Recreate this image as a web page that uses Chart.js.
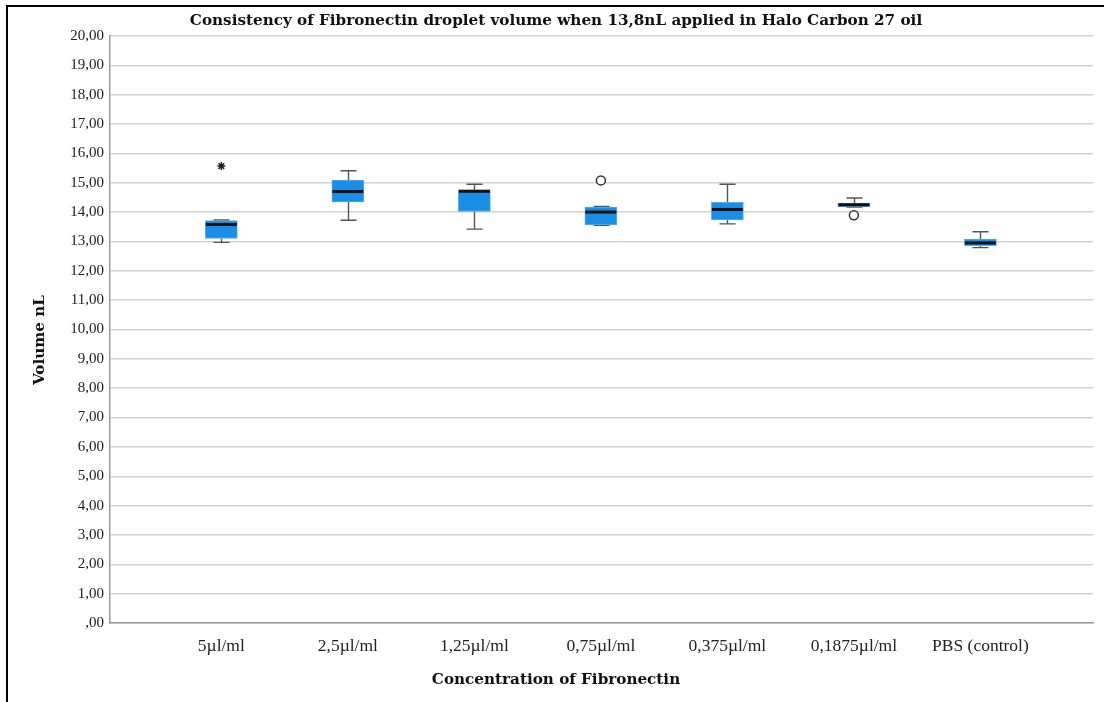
<!DOCTYPE html>
<html>
<head>
<meta charset="utf-8">
<script src="https://cdn.jsdelivr.net/npm/chart.js@4.4.1/dist/chart.umd.min.js"></script>
<style>
  html, body { margin: 0; padding: 0; background: #fff; }
  #wrap { width: 1104px; height: 702px; position: relative; }
</style>
</head>
<body>
<div id="wrap"><canvas id="c" width="1104" height="702"></canvas></div>
<script>
// Fibronectin concentration groups
const categories = ['5µl/ml', '2,5µl/ml', '1,25µl/ml', '0,75µl/ml', '0,375µl/ml', '0,1875µl/ml', 'PBS (control)'];

// Box-plot summary per group (volume, nL)
const whiskerLow  = [12.97, 13.72, 13.42, 13.55, 13.60, 14.17, 12.79];
const q1          = [13.10, 14.35, 14.02, 13.56, 13.73, 14.18, 12.86];
const median      = [13.58, 14.70, 14.71, 14.00, 14.09, 14.25, 12.95];
const q3          = [13.71, 15.09, 14.76, 14.17, 14.33, 14.31, 13.08];
const whiskerHigh = [13.73, 15.41, 14.95, 14.19, 14.95, 14.48, 13.33];

// Outliers (circle) and extreme values (star)
const outlierGroup = [3, 5];
const outlierValue = [15.08, 13.89];
const extremeGroup = [0];
const extremeValue = [15.57];

// Y-axis tick values
const yTicks = [0, 1, 2, 3, 4, 5, 6, 7, 8, 9, 10, 11, 12, 13, 14, 15, 16, 17, 18, 19, 20];

const serif = "'Liberation Serif', 'Times New Roman', serif";
const boldSerif = "'DejaVu Serif', serif";

const fmt = v => v === 0 ? ',00' : v.toFixed(2).replace('.', ',');

// Whiskers, caps and median bars drawn against the chart's scales
const boxExtras = {
  id: 'boxExtras',
  beforeDatasetsDraw(chart) {
    const { ctx, scales: { x, y } } = chart;
    ctx.save();
    ctx.strokeStyle = '#555';
    ctx.lineWidth = 1.4;
    categories.forEach((_, i) => {
      const cx = Math.round(x.getPixelForValue(i)) + 0.5;
      const lo = y.getPixelForValue(whiskerLow[i]);
      const hi = y.getPixelForValue(whiskerHigh[i]);
      const b = y.getPixelForValue(q1[i]);
      const t = y.getPixelForValue(q3[i]);
      ctx.beginPath();
      ctx.moveTo(cx, hi); ctx.lineTo(cx, t);
      ctx.moveTo(cx, b); ctx.lineTo(cx, lo);
      ctx.moveTo(cx - 8, hi); ctx.lineTo(cx + 8, hi);
      ctx.moveTo(cx - 8, lo); ctx.lineTo(cx + 8, lo);
      ctx.stroke();
    });
    ctx.restore();
  },
  afterDatasetDraw(chart, args) {
    if (args.index !== 0) return;
    const { ctx, scales: { x, y } } = chart;
    ctx.save();
    ctx.strokeStyle = '#111';
    ctx.lineWidth = 3;
    categories.forEach((_, i) => {
      const cx = x.getPixelForValue(i);
      const m = y.getPixelForValue(median[i]);
      ctx.beginPath();
      ctx.moveTo(cx - 15.5, m); ctx.lineTo(cx + 15.5, m);
      ctx.stroke();
    });
    ctx.restore();
  }
};

// Frame and titles
const decor = {
  id: 'decor',
  beforeDraw(chart) {
    const { ctx } = chart;
    ctx.save();
    ctx.fillStyle = '#fff';
    ctx.fillRect(0, 0, 1104, 702);
    ctx.strokeStyle = '#000';
    ctx.lineWidth = 2;
    ctx.beginPath();
    ctx.moveTo(7, 702); ctx.lineTo(7, 6); ctx.lineTo(1104, 6);
    ctx.stroke();
    ctx.restore();
  },
  afterDraw(chart) {
    const { ctx } = chart;
    ctx.save();
    ctx.fillStyle = '#111';
    ctx.textAlign = 'center';
    ctx.textBaseline = 'middle';
    ctx.font = 'bold 15.2px ' + boldSerif;
    ctx.fillText('Consistency of Fibronectin droplet volume when 13,8nL applied in Halo Carbon 27 oil', 556, 21);
    ctx.fillText('Concentration of Fibronectin', 556, 680);
    ctx.translate(40, 340);
    ctx.rotate(-Math.PI / 2);
    ctx.fillText('Volume nL', 0, 0);
    ctx.restore();
  }
};

new Chart(document.getElementById('c'), {
  type: 'bar',
  data: {
    datasets: [
      {
        type: 'bar',
        data: categories.map((_, i) => ({ x: i, y: [q1[i], q3[i]] })),
        backgroundColor: '#1a8ee6',
        borderColor: '#52aaf0',
        borderWidth: 1,
        borderSkipped: false,
        barThickness: 32,
        order: 2
      },
      {
        type: 'scatter',
        data: outlierGroup.map((g, i) => ({ x: g, y: outlierValue[i] })),
        pointStyle: 'circle',
        pointRadius: 4.5,
        backgroundColor: '#fff',
        borderColor: '#333',
        borderWidth: 1.5,
        order: 1
      },
      {
        type: 'scatter',
        data: extremeGroup.map((g, i) => ({ x: g, y: extremeValue[i] })),
        pointStyle: 'star',
        pointRadius: 4,
        borderColor: '#222',
        borderWidth: 1.5,
        order: 1
      }
    ]
  },
  options: {
    responsive: false,
    animation: false,
    events: [],
    layout: { padding: { left: 0, right: 11, top: 36, bottom: 0 } },
    plugins: { legend: { display: false }, tooltip: { enabled: false }, title: { display: false } },
    scales: {
      x: {
        type: 'linear',
        offset: false,
        min: -0.88,
        max: 6.89,
        afterBuildTicks: s => { s.ticks = categories.map((_, i) => ({ value: i })); },
        afterFit: s => { s.height = 79; },
        grid: { display: false, drawTicks: false, offset: false },
        border: { display: true, color: '#9a9a9a', width: 1.5 },
        ticks: {
          callback: v => categories[v],
          font: { family: serif, size: 17.5 },
          color: '#222',
          padding: 13,
          maxRotation: 0,
          autoSkip: false
        }
      },
      y: {
        min: 0,
        max: 20,
        afterBuildTicks: s => { s.ticks = yTicks.map(v => ({ value: v })); },
        afterFit: s => { s.width = 110; },
        grid: { color: '#d2d2d2', lineWidth: 1.5, drawTicks: false },
        border: { display: true, color: '#9a9a9a', width: 1.5 },
        ticks: {
          callback: v => fmt(v),
          font: { family: serif, size: 15 },
          color: '#222',
          padding: 6
        }
      }
    }
  },
  plugins: [decor, boxExtras]
});
</script>
</body>
</html>
